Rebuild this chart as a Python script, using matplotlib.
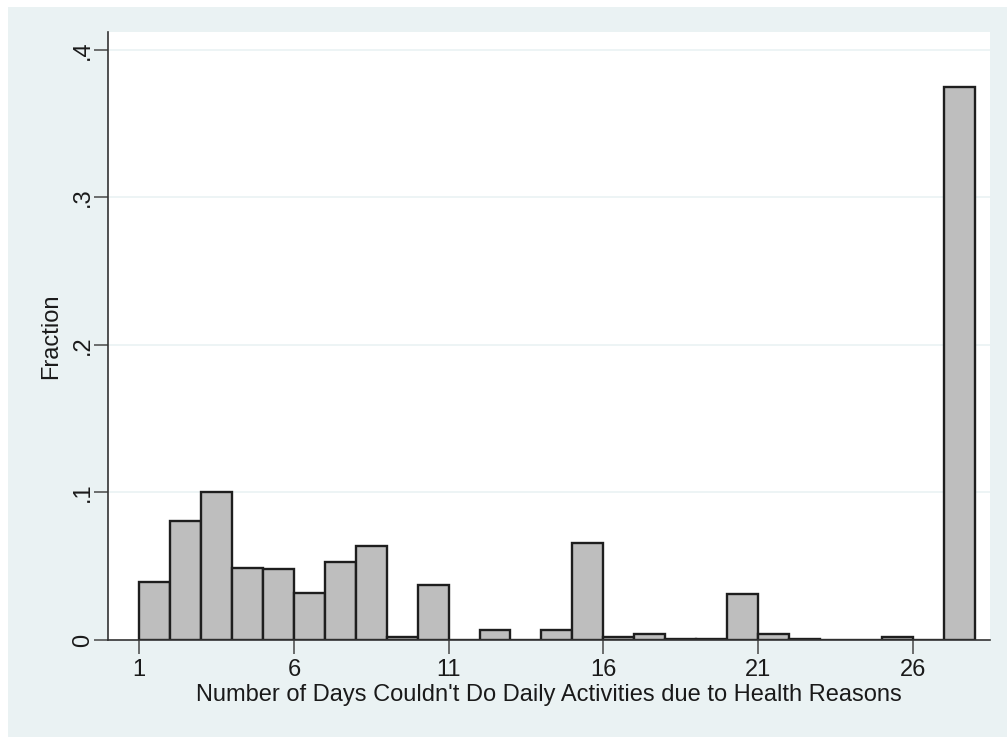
import matplotlib
matplotlib.use("Agg")
import matplotlib.pyplot as plt
from matplotlib.patches import Rectangle

plt.rcParams['font.family'] = ['Liberation Sans', 'DejaVu Sans']

# Histogram bins: left edges (days) and fraction of respondents in each bin
bin_left = list(range(1, 28))
fraction = [0.039, 0.081, 0.100, 0.049, 0.048, 0.032, 0.053, 0.064, 0.002, 0.037,
            0.000, 0.007, 0.000, 0.007, 0.066, 0.002, 0.004, 0.001, 0.001, 0.031,
            0.004, 0.001, 0.000, 0.000, 0.002, 0.000, 0.375]
bin_width = 1.0

x_ticks = [1, 6, 11, 16, 21, 26]
y_ticks = [0, 0.1, 0.2, 0.3, 0.4]
y_tick_labels = ["0", ".1", ".2", ".3", ".4"]

x_title = "Number of Days Couldn't Do Daily Activities due to Health Reasons"
y_title = "Fraction"

W, H = 1007, 737
fig = plt.figure(figsize=(W / 100, H / 100), dpi=100, facecolor="white")

# Light graph-region background, kept behind the axes
bg = Rectangle((8 / W, 0), 1 - 8 / W, 1 - 7 / H, transform=fig.transFigure,
               facecolor="#EAF2F3", edgecolor="none", zorder=-10)
fig.patches.append(bg)

ax = fig.add_axes([108 / W, 1 - 640 / H, (990 - 108) / W, (640 - 32) / H])
ax.set_zorder(1)
ax.set_facecolor("white")

ax.bar(bin_left, fraction, width=bin_width, align="edge",
       color="#BEBEBE", edgecolor="#1e1e1e", linewidth=1.7, zorder=3)

ax.set_xlim(-0.01, 28.5)
ax.set_ylim(0, 0.4122)

ax.set_yticks(y_ticks)
ax.set_yticklabels(y_tick_labels, rotation=90, va="center")
ax.set_xticks(x_ticks)
ax.set_xticklabels([str(t) for t in x_ticks])

for y in y_ticks[1:]:
    ax.axhline(y, color="#EAF2F3", linewidth=1.2, zorder=1)

for side in ["top", "right"]:
    ax.spines[side].set_visible(False)
for side in ["left", "bottom"]:
    ax.spines[side].set_color("#333333")
    ax.spines[side].set_linewidth(1.2)
    ax.spines[side].set_zorder(4)

ax.tick_params(axis="both", direction="out", length=10, width=1.2,
               color="#555555", labelsize=17, labelcolor="#1a1a1a")
ax.tick_params(axis="x", pad=4)
ax.tick_params(axis="y", pad=0)

ax.set_xlabel(x_title, fontsize=17, color="#1a1a1a", labelpad=2)
ax.set_ylabel(y_title, fontsize=17, color="#1a1a1a", labelpad=7)

fig.savefig("out.png", dpi=100, facecolor="white")
